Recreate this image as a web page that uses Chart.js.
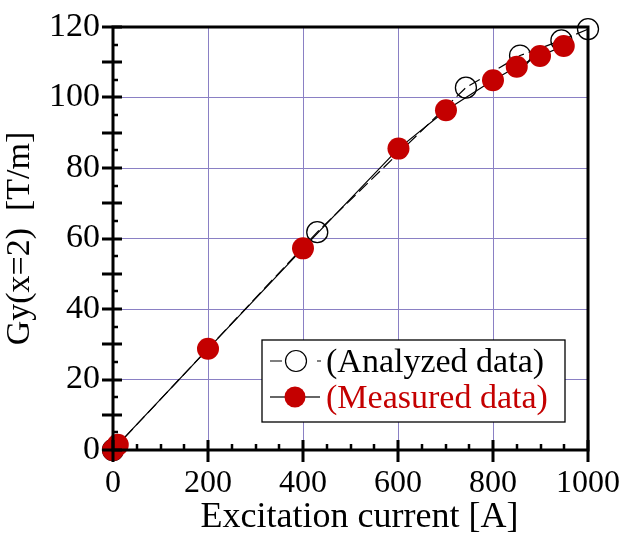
<!DOCTYPE html>
<html>
<head>
<meta charset="utf-8">
<script src="https://cdn.jsdelivr.net/npm/chart.js@4.4.1/dist/chart.umd.min.js"></script>
<style>
  html, body { margin: 0; padding: 0; background: #fff; }
  #wrap { width: 623px; height: 536px; }
</style>
</head>
<body>
<div id="wrap"><canvas id="gyChart" width="623" height="536"></canvas></div>
<script>
// values
const analyzedX = [0, 430, 743, 857, 944, 1000];
const analyzedY = [0, 61.8, 102.8, 111.9, 116.2, 119.4];

const measuredX = [0, 10, 200, 400, 601, 701, 800, 850, 899, 949];
const measuredY = [0, 1.5, 28.7, 57.2, 85.5, 96.4, 104.9, 108.7, 111.8, 114.6];

const xTicks = [0, 200, 400, 600, 800, 1000];
const yGrid = [0, 10, 20, 30, 40, 50, 60, 70, 80, 90, 100, 110, 120];
const yLabelStep = 20;

const legendLabels = ['(Analyzed data)', '(Measured data)'];

const serif = '"Liberation Serif", "DejaVu Serif", serif';
const red = '#c40000';

function toPoints(xs, ys) {
  return xs.map((x, i) => ({ x: x, y: ys[i] }));
}

// frame, tick marks and the legend box inside the plot
const framePlugin = {
  id: 'frame',
  afterDraw(chart) {
    const c = chart.ctx;
    const a = chart.chartArea;
    const xs = chart.scales.x, ys = chart.scales.y;
    c.save();
    c.setLineDash([]);
    c.globalAlpha = 1;
    c.strokeStyle = '#000';
    c.lineCap = 'butt';

    // major ticks, crossing the axis
    c.lineWidth = 3;
    c.beginPath();
    yGrid.forEach(v => {
      const p = Math.round(ys.getPixelForValue(v));
      c.moveTo(a.left - 11, p); c.lineTo(a.left + 9, p);
    });
    xTicks.forEach(v => {
      const p = Math.round(xs.getPixelForValue(v));
      c.moveTo(p, a.bottom + 12); c.lineTo(p, a.bottom - 10);
    });
    c.stroke();

    // minor ticks, inside only
    c.lineWidth = 2.5;
    c.beginPath();
    for (let v = 5; v < 120; v += 10) {
      const p = Math.round(ys.getPixelForValue(v));
      c.moveTo(a.left, p); c.lineTo(a.left + 5, p);
    }
    for (let v = 50; v < 1000; v += 50) {
      if (v % 200 === 0) continue;
      const p = Math.round(xs.getPixelForValue(v));
      c.moveTo(p, a.bottom); c.lineTo(p, a.bottom - 6);
    }
    c.stroke();

    c.lineWidth = 3;
    c.strokeRect(a.left, a.top, a.right - a.left, a.bottom - a.top);

    // legend
    const lx = 262, ly = 340, lw = 303, lh = 82;
    c.fillStyle = '#fff';
    c.fillRect(lx, ly, lw, lh);
    c.lineWidth = 1.3;
    c.strokeRect(lx, ly, lw, lh);

    const row1 = ly + 21, row2 = ly + 57;
    c.lineWidth = 1.2;
    c.setLineDash([12, 35]);
    c.beginPath();
    c.moveTo(lx + 8, row1); c.lineTo(lx + 59, row1);
    c.stroke();
    c.setLineDash([]);
    c.beginPath();
    c.arc(lx + 34, row1, 10.5, 0, Math.PI * 2);
    c.stroke();

    c.strokeStyle = '#666';
    c.lineWidth = 1.8;
    c.beginPath();
    c.moveTo(lx + 8, row2); c.lineTo(lx + 58, row2);
    c.stroke();
    c.beginPath();
    c.arc(lx + 33, row2, 10.5, 0, Math.PI * 2);
    c.fillStyle = red;
    c.fill();

    c.font = '34px ' + serif;
    c.textBaseline = 'middle';
    c.textAlign = 'left';
    c.fillStyle = '#000';
    c.fillText(legendLabels[0], lx + 64, row1 + 2);
    c.fillStyle = red;
    c.fillText(legendLabels[1], lx + 64, row2 + 2);
    c.restore();
  }
};

const ctx = document.getElementById('gyChart').getContext('2d');

const chart = new Chart(ctx, {
  type: 'scatter',
  data: {
    datasets: [
      {
        label: legendLabels[0],
        data: toPoints(analyzedX, analyzedY),
        showLine: true,
        clip: false,
        borderColor: '#000',
        borderWidth: 1.2,
        borderDash: [12, 5],
        pointRadius: 10.5,
        pointBackgroundColor: 'rgba(255,255,255,0)',
        pointBorderColor: '#000',
        pointBorderWidth: 1.3,
        tension: 0,
        order: 2
      },
      {
        label: legendLabels[1],
        data: toPoints(measuredX, measuredY),
        showLine: true,
        clip: false,
        borderColor: '#000',
        borderWidth: 1.2,
        pointRadius: 11,
        pointBackgroundColor: red,
        pointBorderColor: red,
        pointBorderWidth: 0,
        tension: 0,
        order: 1
      }
    ]
  },
  options: {
    responsive: false,
    animation: false,
    layout: { padding: { top: 27, right: 35, left: 0, bottom: 0 } },
    plugins: {
      legend: { display: false },
      tooltip: { enabled: false }
    },
    scales: {
      x: {
        type: 'linear',
        min: 0,
        max: 1000,
        afterBuildTicks: s => { s.ticks = xTicks.map(v => ({ value: v })); },
        afterFit: s => {
          s.height = 86;
          s.paddingLeft = 0;
          s.paddingRight = 0;
        },
        border: { display: false },
        grid: { color: '#8a80c4', lineWidth: 1, drawTicks: false },
        ticks: {
          color: '#000',
          padding: 14,
          maxRotation: 0,
          callback: v => String(v),
          font: { family: serif, size: 32 }
        },
        title: {
          display: true,
          text: '  Excitation current [A]',
          color: '#000',
          padding: { top: 0, bottom: 0 },
          font: { family: serif, size: 36, lineHeight: 1 }
        }
      },
      y: {
        type: 'linear',
        min: 0,
        max: 120,
        afterBuildTicks: s => { s.ticks = yGrid.map(v => ({ value: v })); },
        afterFit: s => {
          s.width = 113;
          s.paddingTop = 0;
          s.paddingBottom = 0;
        },
        border: { display: false },
        grid: { color: '#8a80c4', lineWidth: 1, drawTicks: false },
        ticks: {
          color: '#000',
          padding: 13,
          callback: v => (v % yLabelStep === 0 ? String(v) : ''),
          font: { family: serif, size: 34 }
        },
        title: {
          display: true,
          text: 'Gy(x=2)  [T/m]',
          color: '#000',
          padding: { top: 0, bottom: 2 },
          font: { family: serif, size: 34 }
        }
      }
    }
  },
  plugins: [framePlugin]
});
</script>
</body>
</html>
